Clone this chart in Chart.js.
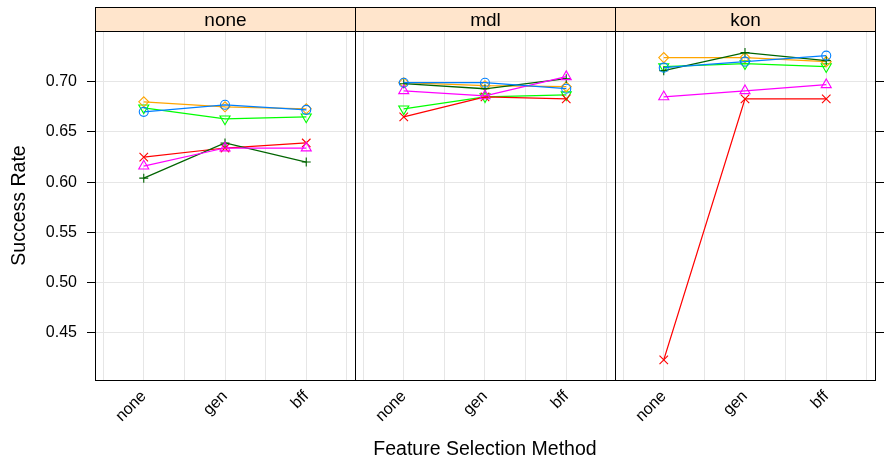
<!DOCTYPE html>
<html>
<head>
<meta charset="utf-8">
<script src="https://cdn.jsdelivr.net/npm/chart.js@4/dist/chart.umd.min.js"></script>
<style>
  html, body { margin: 0; padding: 0; background: #fff; }
  #wrap { width: 885px; height: 460px; position: relative; }
</style>
</head>
<body>
<div id="wrap"><canvas id="chart" width="885" height="460"></canvas></div>
<script>
// panels (strip labels) and the methods on the x axis of each panel
const panels = ["none", "mdl", "kon"];
const methods = ["none", "gen", "bff"];
const yTicks = [0.45, 0.50, 0.55, 0.60, 0.65, 0.70];

// success rates, 3 methods per panel: none panel, mdl panel, kon panel
const blueCircle   = [0.670, 0.677, 0.672, 0.699, 0.699, 0.693, 0.714, 0.720, 0.726];
const magentaTri   = [0.616, 0.634, 0.634, 0.691, 0.686, 0.705, 0.685, 0.691, 0.697];
const darkGreenPlus = [0.604, 0.639, 0.620, 0.698, 0.693, 0.703, 0.711, 0.729, 0.721];
const redCross     = [0.625, 0.634, 0.639, 0.665, 0.685, 0.683, 0.423, 0.683, 0.683];
const orangeDiamond = [0.680, 0.675, 0.673, 0.699, 0.696, 0.695, 0.724, 0.724, 0.720];
const greenDownTri = [0.674, 0.663, 0.665, 0.673, 0.685, 0.687, 0.715, 0.718, 0.715];

const FONT = "'Liberation Sans', Arial, Helvetica, sans-serif";
const PANEL_W = 3.2;   // x units per panel
const X_OFF = 0.4;

const series = [
    { values: blueCircle, color: "#0080ff", style: "circle", radius: 4.5, rot: 0 },
    { values: magentaTri, color: "#ff00ff", style: "triangle", radius: 5.8, rot: 0 },
    { values: darkGreenPlus, color: "#006400", style: "cross", radius: 4.5, rot: 0 },
    { values: redCross, color: "#ff0000", style: "crossRot", radius: 6, rot: 0 },
    { values: orangeDiamond, color: "#ffa500", style: "rectRot", radius: 5, rot: 0 },
    { values: greenDownTri, color: "#00ff00", style: "triangle", radius: 5.8, rot: 180 }
];

const datasets = [];
panels.forEach((p, pi) => {
    series.forEach(s => {
        datasets.push({
            data: methods.map((m, mi) => ({ x: pi * PANEL_W + mi + 1, y: s.values[pi * 3 + mi] })),
            borderColor: s.color,
            backgroundColor: "rgba(0,0,0,0)",
            borderWidth: 1.25,
            pointStyle: s.style,
            pointRadius: s.radius,
            pointRotation: s.rot,
            pointBorderWidth: 1.1,
            pointBorderColor: s.color,
            pointBackgroundColor: "rgba(0,0,0,0)",
            showLine: true,
            tension: 0
        });
    });
});

const xTickValues = [];
panels.forEach((p, pi) => {
    for (let k = 0.5; k <= 3.5; k += 0.5) xTickValues.push(pi * PANEL_W + k);
});

function xLabel(v) {
    const local = Math.round((v - X_OFF) * 1000) / 1000 % PANEL_W + X_OFF;
    const k = Math.round(local * 2) / 2;
    if (Number.isInteger(k) && k >= 1 && k <= 3) return methods[k - 1];
    return "";
}

const stripPlugin = {
    id: "strips",
    afterDraw(chart) {
        const { ctx, chartArea } = chart;
        const xs = chart.scales.x;
        ctx.save();
        panels.forEach((p, pi) => {
            const l = Math.round(xs.getPixelForValue(pi * PANEL_W + X_OFF)) + 0.5;
            const r = Math.round(xs.getPixelForValue((pi + 1) * PANEL_W + X_OFF)) + 0.5;
            const top = 7.5, bot = Math.round(chartArea.top) + 0.5;
            ctx.fillStyle = "#ffe5cc";
            ctx.fillRect(l, top, r - l, bot - top);
            ctx.strokeStyle = "#000";
            ctx.lineWidth = 1;
            ctx.strokeRect(l, top, r - l, bot - top);
            ctx.strokeRect(l, bot, r - l, Math.round(chartArea.bottom) - bot + 0.5);
            ctx.fillStyle = "#000";
            ctx.font = "19px " + FONT;
            ctx.textAlign = "center";
            ctx.textBaseline = "middle";
            ctx.fillText(p, (l + r) / 2, (top + bot) / 2 + 1);
        });
        ctx.restore();
    }
};

new Chart(document.getElementById("chart"), {
    type: "scatter",
    data: { datasets },
    options: {
        responsive: false,
        animation: false,
        layout: { padding: { top: 31, left: 0, right: 0, bottom: 0 } },
        plugins: { legend: { display: false }, tooltip: { enabled: false } },
        scales: {
            x: {
                type: "linear",
                min: X_OFF,
                max: panels.length * PANEL_W + X_OFF,
                afterBuildTicks: scale => { scale.ticks = xTickValues.map(v => ({ value: v })); },
                afterFit: scale => { scale.height = 80; scale.paddingLeft = 0; scale.paddingRight = 0; },
                grid: { color: "#e6e6e6", drawTicks: false, lineWidth: 1 },
                border: { display: true, color: "#000" },
                ticks: {
                    autoSkip: false,
                    minRotation: 45,
                    maxRotation: 45,
                    padding: 7,
                    color: "#000",
                    font: { family: FONT, size: 16 },
                    callback: v => xLabel(v)
                },
                title: {
                    display: true,
                    text: "Feature Selection Method",
                    color: "#000",
                    font: { family: FONT, size: 19.5, lineHeight: 1.1 },
                    padding: { top: 0, bottom: 0 }
                }
            },
            y: {
                position: "left",
                min: 0.403,
                max: 0.7505,
                afterBuildTicks: scale => { scale.ticks = yTicks.map(v => ({ value: v })); },
                afterFit: scale => { scale.width = 95; },
                grid: { color: "#e6e6e6", tickColor: "#000", tickLength: 8 },
                border: { display: true, color: "#000" },
                ticks: {
                    padding: 10,
                    color: "#000",
                    font: { family: FONT, size: 16 },
                    callback: v => v.toFixed(2)
                },
                title: {
                    display: true,
                    text: "Success Rate",
                    color: "#000",
                    font: { family: FONT, size: 19.5, lineHeight: 1.2 },
                    padding: { top: 8, bottom: 0 }
                }
            },
            y2: {
                position: "right",
                min: 0.403,
                max: 0.7505,
                afterBuildTicks: scale => { scale.ticks = yTicks.map(v => ({ value: v })); },
                afterFit: scale => { scale.width = 10; scale.paddingTop = 0; scale.paddingBottom = 0; },
                grid: { drawOnChartArea: false, tickColor: "#000", tickLength: 9 },
                border: { display: true, color: "#000" },
                ticks: { padding: 0, callback: () => "" }
            }
        }
    },
    plugins: [stripPlugin]
});
</script>
</body>
</html>
